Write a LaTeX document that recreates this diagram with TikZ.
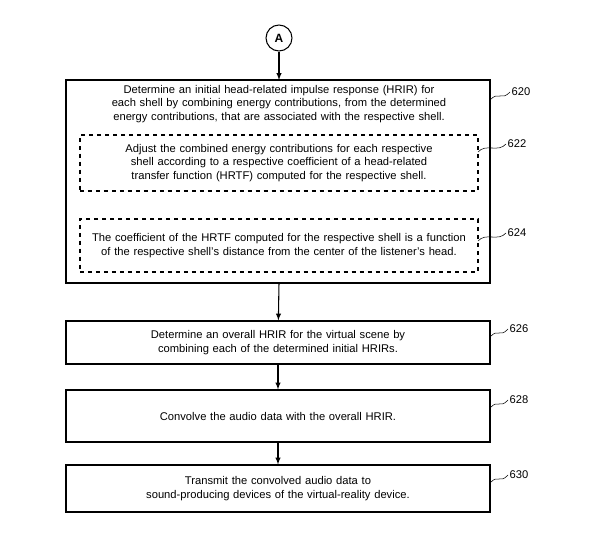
\documentclass[tikz,border=0pt]{standalone}
\usepackage{fontspec}
\setmainfont{Liberation Sans}
\usetikzlibrary{positioning}
\hyphenpenalty=10000
\exhyphenpenalty=10000
\tikzset{
  stepbox/.style={draw=black, thick, minimum width=424*0.0264cm, text width=410*0.0264cm, align=center, inner sep=2pt},
  subbox/.style={draw=black, thick, dashed, minimum width=398*0.0264cm, text width=386*0.0264cm, align=center, inner sep=2pt},
  reflabel/.style={anchor=west, inner sep=1pt},
  flow/.style={->, >=latex, thick}
}
\newcommand{\squig}[2]{\draw (#1) .. controls +(8,-9) and +(-8,9) .. (#2.west);}
\begin{document}
\begin{tikzpicture}[x=0.0264cm, y=-0.0264cm, font=\fontsize{8.4}{10.2}\selectfont]
\useasboundingbox (0,0) rectangle (604,539);
\node[circle, draw, thick, minimum size=26*0.0264cm, inner sep=0pt, font=\bfseries\small] (A) at (279,38) {A};
\draw[thick] (66,80) rectangle (490,283);
\coordinate (b620) at (279,80);
\node[anchor=north, text width=418*0.0264cm, align=center, inner sep=0pt] (t620) at (279,85) {Determine an initial head-related impulse response (HRIR) for each shell by combining energy contributions, from the determined energy contributions, that are associated with the respective shell.};
\node[subbox, minimum height=56*0.0264cm] (b622) at (279,163) {Adjust the combined energy contributions for each respective shell according to a respective coefficient of a head-related transfer function (HRTF) computed for the respective shell.};
\node[subbox, minimum height=53*0.0264cm] (b624) at (279,245.5) {The coefficient of the HRTF computed for the respective shell is a function of the respective shell's distance from the center of the listener's head.};
\node[stepbox, minimum height=43*0.0264cm] (b626) at (278,342.5) {Determine an overall HRIR for the virtual scene by combining each of the determined initial HRIRs.};
\node[stepbox, minimum height=52*0.0264cm] (b628) at (278,416) {Convolve the audio data with the overall HRIR.};
\node[stepbox, minimum height=47*0.0264cm] (b630) at (278,488.5) {Transmit the convolved audio data to sound-producing devices of the virtual-reality device.};
\coordinate (e620) at (279,283);
\draw[flow] (A) -- (b620);
\draw[flow] (e620) -- (b626);
\draw[flow] (b626) -- (b628);
\draw[flow] (b628) -- (b630);
\node[reflabel] (l620) at (510,92) {620};
\node[reflabel] (l622) at (506,144) {622};
\node[reflabel] (l624) at (506,233) {624};
\node[reflabel] (l626) at (508,329) {626};
\node[reflabel] (l628) at (508,400) {628};
\node[reflabel] (l630) at (508,475) {630};
\coordinate (s620) at (490,100);
\coordinate (s622) at (478,152);
\coordinate (s624) at (478,241);
\coordinate (s626) at (490,337);
\coordinate (s628) at (490,408);
\coordinate (s630) at (490,483);
\squig{s620}{l620}
\squig{s622}{l622}
\squig{s624}{l624}
\squig{s626}{l626}
\squig{s628}{l628}
\squig{s630}{l630}
\end{tikzpicture}
\end{document}
